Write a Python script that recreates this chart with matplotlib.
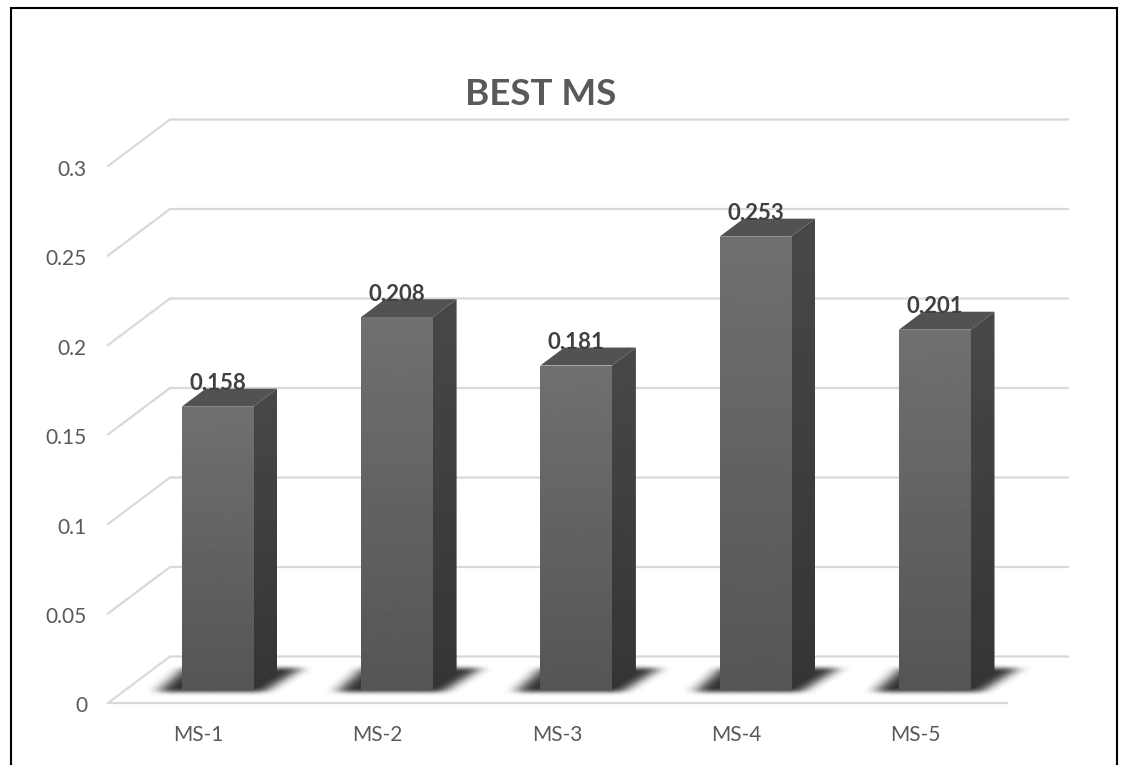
import numpy as np
import matplotlib
matplotlib.use("Agg")
import matplotlib.pyplot as plt
from matplotlib.patches import Polygon, Rectangle

categories = ["MS-1", "MS-2", "MS-3", "MS-4", "MS-5"]
values = [0.158, 0.208, 0.181, 0.253, 0.201]
axis_ticks = [0, 0.05, 0.1, 0.15, 0.2, 0.25, 0.3]
tick_labels = ["0", "0.05", "0.1", "0.15", "0.2", "0.25", "0.3"]
title = "BEST MS"

W, H = 1122, 765
PX_X = 179.3      # pixels per category
PX_Y = 1790.0     # pixels per unit of value
X0 = 217.5        # pixel column of the first category
Y0 = 703.0        # pixel row of value 0 on the front edge of the floor

plt.rcParams["font.family"] = ["Lato", "DejaVu Sans"]

fig = plt.figure(figsize=(W / 100, H / 100), dpi=100, facecolor="white")
ax = fig.add_axes([0, 0, 1, 1])


def col(px):
    return (px - X0) / PX_X


def row(px):
    return (Y0 - px) / PX_Y


def dx(px):
    return px / PX_X


def dy(px):
    return px / PX_Y


# Outer chart frame, open at the bottom where the canvas ends
ax.plot([col(10.5), col(10.5), col(1116.5), col(1116.5)],
        [row(766), row(7.5), row(7.5), row(766)],
        color="black", lw=1.5, solid_joinstyle="miter", zorder=1)

# Oblique walls and floor: each level runs along the side wall, then the back wall
wall_dx, wall_dy = dx(62), dy(46.5)
grid_color = "#d9d9d9"
for v in axis_ticks:
    ax.plot([col(108), col(108) + wall_dx, col(1068)], [v, v + wall_dy, v + wall_dy],
            color=grid_color, lw=1.6, solid_joinstyle="miter", zorder=2)
ax.plot([col(108), col(1007)], [0, 0], color=grid_color, lw=1.6, zorder=2)

bar_half = dx(35.8)
bar_base = dy(13.5)       # bars stand this far behind the floor's front edge
depth_x, depth_y = dx(24), dy(18)


def blur_1d(a, r, axis):
    kernel = np.ones(2 * r + 1) / (2 * r + 1)
    return np.apply_along_axis(lambda m: np.convolve(m, kernel, mode="same"), axis, a)


# Soft floor shadow, a blurred parallelogram rasterised once and reused under every bar
mask_w, mask_h = 200, 60
gx, gy = np.meshgrid(np.arange(mask_w) + 0.5, np.arange(mask_h) + 0.5)
t = (gy - 20) / 24
lo = 30 + (1 - t) * 26
hi = 174 - t * 38
mask = ((gy >= 20) & (gy <= 44) & (gx >= lo) & (gx <= hi)).astype(float)
for _ in range(2):
    mask = blur_1d(mask, 8, 1)
    mask = blur_1d(mask, 2, 0)
shadow = np.zeros((mask_h, mask_w, 4))
shadow[..., :3] = 0.16
shadow[..., 3] = mask * 0.95

for i in range(len(categories)):
    # raster column 90 falls on the bar centre, row 44 just below the bar base
    ext_l = i - dx(90)
    ext_t = bar_base + dy(44) - dy(2.5)
    ax.imshow(shadow, extent=[ext_l, ext_l + dx(mask_w), ext_t - dy(mask_h), ext_t],
              origin="upper", aspect="auto", interpolation="bilinear", zorder=3)

# Bars: gradient front, darker side, flat top
front_grad = np.linspace(0x70, 0x55, 256)[:, None] / 255
side_grad = np.linspace(0x48, 0x35, 256)[:, None] / 255
for i, v in enumerate(values):
    xl, xr = i - bar_half, i + bar_half
    yb, yt = bar_base, bar_base + v

    top = Polygon([[xl, yt], [xr, yt], [xr + depth_x, yt + depth_y], [xl + depth_x, yt + depth_y]],
                  closed=True, fc="#525252", ec="none", zorder=4)
    ax.add_patch(top)

    side = Polygon([[xr, yb], [xr + depth_x, yb + depth_y], [xr + depth_x, yt + depth_y], [xr, yt]],
                   closed=True, fc="none", ec="none", zorder=4)
    ax.add_patch(side)
    im = ax.imshow(side_grad, extent=[xr, xr + depth_x, yb, yt + depth_y], origin="upper",
                   aspect="auto", cmap="gray", vmin=0, vmax=1, zorder=4)
    im.set_clip_path(side)

    face = Rectangle((xl, yb), xr - xl, yt - yb, fc="none", ec="none", zorder=5)
    ax.add_patch(face)
    im = ax.imshow(front_grad, extent=[xl, xr, yb, yt], origin="upper",
                   aspect="auto", cmap="gray", vmin=0, vmax=1, zorder=5)
    im.set_clip_path(face)

    ax.text(i, yt + dy(23), f"{v:g}", ha="center", va="center", fontsize=16,
            fontweight="bold", color="#404040", zorder=6)

# Axis labels
for v, lab in zip(axis_ticks, tick_labels):
    ax.text(col(87), v - dy(3.5), lab, ha="right", va="center", fontsize=15,
            color="#595959", zorder=6)
for i, lab in enumerate(categories):
    ax.text(i - dx(19), row(735), lab, ha="center", va="center", fontsize=15,
            color="#595959", zorder=6)

ax.text(col(540.5), row(94), title, ha="center", va="center",
        fontsize=26.5, fontweight="bold", color="#595959", zorder=6)

ax.set_xlim(col(0), col(W))
ax.set_ylim(row(H), row(0))
ax.axis("off")
fig.savefig("out.png", dpi=100, facecolor="white")
